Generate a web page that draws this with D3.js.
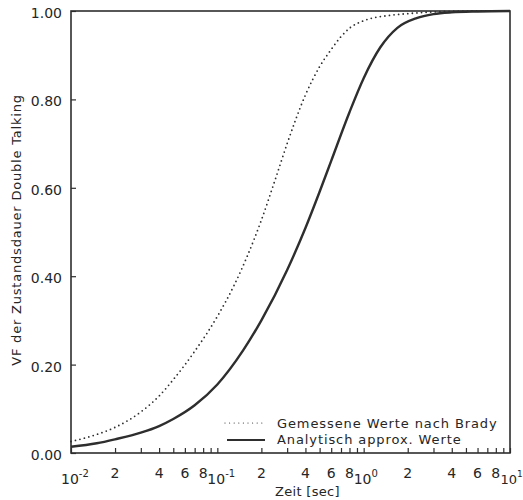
<!DOCTYPE html>
<html>
<head>
<meta charset="utf-8">
<script src="https://cdnjs.cloudflare.com/ajax/libs/d3/7.8.5/d3.min.js"></script>
<style>
  body { margin: 0; background: #fff; }
  svg { display: block; }
  text { font-family: "DejaVu Sans", sans-serif; fill: #262626; }
</style>
</head>
<body>
<div id="chart-container"></div>
<script>
// Zeit [sec] (log scale) and cumulative share
var bradyTime = [0.01, 0.015, 0.02, 0.03, 0.04, 0.05, 0.07, 0.1, 0.13, 0.16, 0.2, 0.25, 0.3, 0.4, 0.5, 0.6, 0.7, 0.8, 1.0, 1.5, 2, 3, 6, 10];
var bradyValues = [0.026, 0.042, 0.058, 0.093, 0.129, 0.166, 0.23, 0.309, 0.379, 0.445, 0.527, 0.621, 0.70, 0.81, 0.874, 0.913, 0.942, 0.961, 0.978, 0.99, 0.994, 0.998, 1.0, 1.0];

var approxTime = [0.01, 0.015, 0.02, 0.03, 0.04, 0.05, 0.07, 0.1, 0.15, 0.2, 0.3, 0.4, 0.5, 0.6, 0.8, 1.0, 1.3, 1.7, 2.3, 3, 4, 6, 10];
var approxValues = [0.014, 0.022, 0.031, 0.046, 0.061, 0.077, 0.108, 0.155, 0.232, 0.30, 0.414, 0.509, 0.591, 0.661, 0.771, 0.848, 0.918, 0.962, 0.984, 0.993, 0.997, 0.999, 1.0];

var xMinorTicks = [0.02, 0.03, 0.04, 0.05, 0.06, 0.07, 0.08, 0.09, 0.2, 0.3, 0.4, 0.5, 0.6, 0.7, 0.8, 0.9, 2, 3, 4, 5, 6, 7, 8, 9];
var xDecades = [0.01, 0.1, 1, 10];
var xDecadeExp = ["-2", "-1", "0", "1"];
var xDigitTicks = [0.02, 0.04, 0.06, 0.08, 0.2, 0.4, 0.6, 0.8, 2, 4, 6, 8];
var yTicks = [0, 0.2, 0.4, 0.6, 0.8, 1.0];

var legendLabels = ["Gemessene Werte nach Brady", "Analytisch approx. Werte"];

var margin = { top: 11, right: 13, bottom: 47, left: 71 },
    width = 523 - margin.left - margin.right,
    height = 500 - margin.top - margin.bottom;

var ink = "#2e2e2e";

var svg = d3.select("#chart-container")
    .append("svg")
    .attr("width", 523)
    .attr("height", 500)
    .append("g")
    .attr("transform", "translate(" + margin.left + "," + margin.top + ")");

var x = d3.scaleLog().domain([0.01, 10]).range([0, width]);
var y = d3.scaleLinear().domain([0, 1]).range([height, 0]);

// x axis: inward ticks, labels drawn separately
var xAxis = svg.append("g")
    .attr("transform", "translate(0," + height + ")")
    .call(d3.axisBottom(x).tickValues(xMinorTicks.concat(xDecades)).tickSize(-5).tickFormat(""));
xAxis.select(".domain").remove();
xAxis.selectAll("line").attr("stroke", ink).attr("stroke-width", 1.2);

svg.selectAll(".xdigit")
    .data(xDigitTicks)
    .enter().append("text")
    .attr("class", "xdigit")
    .attr("x", function (d) { return x(d); })
    .attr("y", height + 25)
    .attr("text-anchor", "middle")
    .style("font-size", "14px")
    .text(function (d) { return String(Math.round(d / Math.pow(10, Math.floor(Math.log10(d) + 1e-9)))); });

// last decade label sits at the window edge, so it is a bit smaller
var decLabels = svg.selectAll(".xdec")
    .data(xDecades)
    .enter().append("text")
    .attr("class", "xdec")
    .attr("x", function (d, i) { return i === 3 ? width - 9.5 : x(d) - 10; })
    .attr("y", height + 31)
    .style("font-size", function (d, i) { return i === 3 ? "13px" : "14px"; });
decLabels.append("tspan").text("10");
decLabels.append("tspan")
    .attr("dy", -7)
    .style("font-size", function (d, i) { return i === 3 ? "9px" : "10px"; })
    .text(function (d, i) { return xDecadeExp[i]; });

// y axis
var yAxis = svg.append("g")
    .call(d3.axisLeft(y).tickValues(yTicks).tickSize(-5).tickFormat(""));
yAxis.select(".domain").remove();
yAxis.selectAll("line").attr("stroke", ink).attr("stroke-width", 1.2);

svg.selectAll(".ylab")
    .data(yTicks)
    .enter().append("text")
    .attr("class", "ylab")
    .attr("x", -9)
    .attr("y", function (d) { return y(d) + 7; })
    .attr("text-anchor", "end")
    .style("font-size", "14px")
    .text(d3.format(".2f"));

// frame
svg.append("rect")
    .attr("width", width)
    .attr("height", height)
    .attr("fill", "none")
    .attr("stroke", ink)
    .attr("stroke-width", 1.6);

// curves
var line = d3.line()
    .x(function (d) { return x(d[0]); })
    .y(function (d) { return y(d[1]); })
    .curve(d3.curveMonotoneX);

svg.append("path")
    .datum(d3.zip(bradyTime, bradyValues))
    .attr("d", line)
    .attr("fill", "none")
    .attr("stroke", ink)
    .attr("stroke-width", 1.8)
    .attr("stroke-linecap", "round")
    .attr("stroke-dasharray", "0,4.6");

svg.append("path")
    .datum(d3.zip(approxTime, approxValues))
    .attr("d", line)
    .attr("fill", "none")
    .attr("stroke", ink)
    .attr("stroke-width", 2.4);

// legend
var legend = svg.append("g").attr("transform", "translate(154," + (height - 30) + ")");
legend.append("line")
    .attr("x1", 0).attr("x2", 37).attr("y1", 0).attr("y2", 0)
    .attr("stroke", ink).attr("stroke-width", 1.2)
    .attr("stroke-linecap", "round").attr("stroke-dasharray", "0,4.6");
legend.append("line")
    .attr("x1", 2).attr("x2", 40).attr("y1", 17).attr("y2", 17)
    .attr("stroke", ink).attr("stroke-width", 2);
legend.selectAll("text")
    .data(legendLabels)
    .enter().append("text")
    .attr("x", 52)
    .attr("y", function (d, i) { return 5 + i * 16; })
    .style("font-size", "13px")
    .style("letter-spacing", "0.9px")
    .text(function (d) { return d; });

// axis titles
svg.append("text")
    .attr("x", width / 2 + 17)
    .attr("y", height + 43)
    .attr("text-anchor", "middle")
    .style("font-size", "13px")
    .style("letter-spacing", "0.3px")
    .text("Zeit [sec]");

svg.append("text")
    .attr("transform", "translate(" + (21 - margin.left) + "," + (230 - margin.top) + ") rotate(-90)")
    .attr("text-anchor", "middle")
    .style("font-size", "13px")
    .style("letter-spacing", "0.8px")
    .text("VF der Zustandsdauer Double Talking");
</script>
</body>
</html>
